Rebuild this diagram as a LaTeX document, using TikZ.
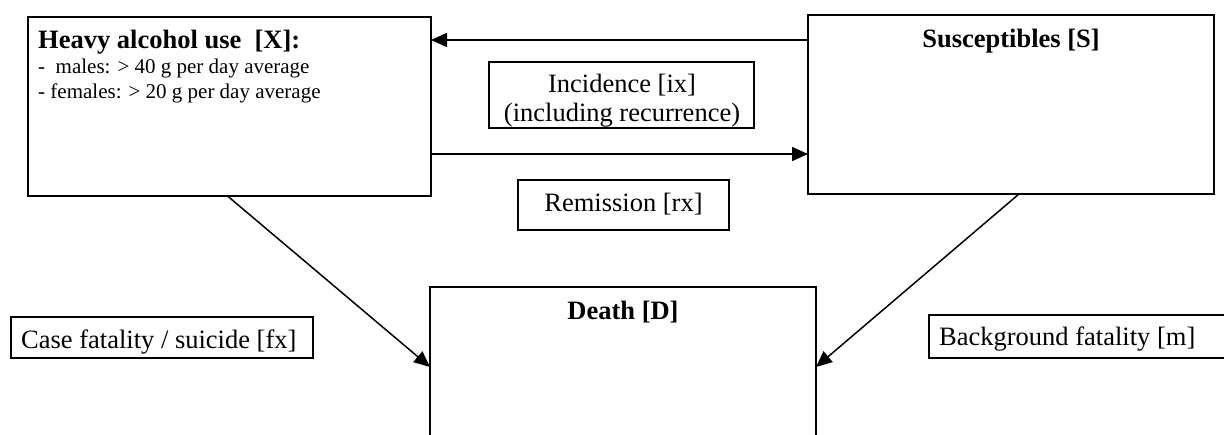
\documentclass[tikz,border=0pt]{standalone}
\usepackage{fontspec}
\setmainfont{Liberation Serif}
\usetikzlibrary{arrows.meta,calc}
\begin{document}
\begin{tikzpicture}[x=1pt,y=-1pt,
  box/.style={draw, line width=1.8pt, rectangle, inner sep=0pt, outer sep=0pt, anchor=north west},
  arr/.style={line width=1.5pt, -{Triangle[length=16pt,width=14pt]}},
  big/.style={font=\fontsize{26.5}{30.5}\selectfont, inner sep=0pt},
  bigb/.style={font=\fontsize{26.5}{30.5}\selectfont\bfseries, inner sep=0pt},
  small/.style={font=\fontsize{21}{24}\selectfont, inner sep=0pt}]
\useasboundingbox (0,0) rectangle (1224,435);
\clip (0,0) rectangle (1224,435);
% main boxes
\node[box, minimum width=403pt, minimum height=179pt] (X) at (28,17) {};
\node[box, minimum width=406pt, minimum height=179pt] (S) at (808,15) {};
\node[box, minimum width=386pt, minimum height=200pt] (D) at (430,287) {};
% label boxes
\node[box, minimum width=265pt, minimum height=66pt] (I) at (489,62) {};
\node[box, minimum width=211pt, minimum height=50pt] (R) at (518,180) {};
\node[box, minimum width=302pt, minimum height=41pt] (F) at (11,317) {};
\node[box, minimum width=320pt, minimum height=43pt] (M) at (929,315) {};
% texts
\node[bigb, anchor=base west] (Xh) at (38,49) {Heavy alcohol use~~[X]:};
\node[small, anchor=base west] (Xm) at (38,74) {-~~males: > 40 g per day average};
\node[small, anchor=base west] (Xf) at (38,99) {- females: > 20 g per day average};
\node[bigb, anchor=base] (Sh) at (1011,48) {Susceptibles [S]};
\node[bigb, anchor=base] (Dh) at (623,320) {Death [D]};
\node[big, anchor=base] (It1) at (622,93) {Incidence [ix]};
\node[big, anchor=base] (It2) at (622,122) {(including recurrence)};
\node[big, anchor=base] (Rt) at (623.5,212) {Remission [rx]};
\node[big, anchor=base west] (Ft) at (21,349) {Case fatality / suicide [fx]};
\node[big, anchor=base west] (Mt) at (939,346) {Background fatality [m]};
% connectors
\draw[arr] (S.west |- 0,40) -- (X.east |- 0,40);
\draw[arr] (X.east |- 0,154) -- (S.west |- 0,154);
\draw[arr] ($(X.south)+(-2,0)$) -- (D.west |- 0,367);
\draw[arr] ($(S.south)+(8,0)$) -- (D.east |- 0,367);
\end{tikzpicture}
\end{document}
